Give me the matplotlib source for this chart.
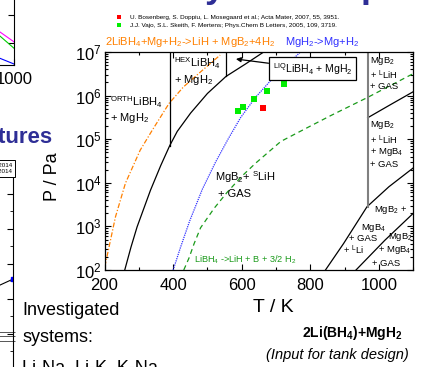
import matplotlib
matplotlib.use('Agg')
import matplotlib.pyplot as plt
from matplotlib.ticker import LogLocator, MultipleLocator, NullFormatter

plt.rcParams['font.family'] = ['Liberation Sans', 'DejaVu Sans']
plt.rcParams['mathtext.fontset'] = 'custom'
plt.rcParams['mathtext.rm'] = 'Liberation Sans'
plt.rcParams['mathtext.it'] = 'Liberation Sans:italic'
plt.rcParams['mathtext.bf'] = 'Liberation Sans:bold'

# phase boundaries (T in K, P in Pa)
t_orange = [201, 232, 261, 304, 339, 388, 430, 480, 537]
p_orange = [120, 1660, 9800, 5.6e4, 1.6e5, 6.6e5, 1.58e6, 3.5e6, 8.5e6]

t_black = [259, 277, 295, 334, 364, 390, 412, 451, 500, 554, 610, 664]
p_black = [100, 331, 977, 6760, 2.5e4, 7.1e4, 1.51e5, 3.98e5, 1.12e6, 2.75e6, 5.25e6, 1e7]

t_blue = [400, 422, 448, 485, 524, 560, 597, 641, 693, 771]
p_blue = [100, 339, 1320, 7080, 3.02e4, 1.0e5, 3.16e5, 9.3e5, 2.63e6, 1e7]

t_green = [431, 446, 461, 480, 520, 557, 600, 640, 714, 800, 860, 967, 1100]
p_green = [100, 186, 400, 930, 2630, 6000, 1.41e4, 2.8e4, 8.9e4, 2.0e5, 3.5e5, 9.1e5, 3.2e6]

# high temperature boundaries
t_hi1 = [967, 1035, 1100]
p_hi1 = [3.1e5, 6.3e5, 1.23e6]
t_hi2 = [844, 897, 965, 1029, 1100]
p_hi2 = [100, 407, 2820, 8130, 2.2e4]
t_hi3 = [933, 1017, 1100]
p_hi3 = [100, 480, 2000]

# vertical transitions: (T, lowest P)
t_orth_hex, p_orth_hex = 390, 7.1e4
t_melt, p_melt = 555, 2.8e6
t_gray, p_gray = 967, 2820

# experimental points
t_bos = [663]
p_bos = [5.1e5]
t_vajo = [588, 604, 637, 674, 723]
p_vajo = [4.5e5, 5.4e5, 8.5e5, 1.29e6, 1.86e6]

lab_bos = 'U. Bosenberg, S. Doppiu, L. Mosegaard et al.; Acta Mater, 2007, 55, 3951.'
lab_vajo = 'J.J. Vajo, S.L. Skeith, F. Mertens; Phys.Chem B Letters, 2005, 109, 3719.'

fig = plt.figure(figsize=(4.34, 3.67), dpi=100)

# ---- main phase diagram
ax = fig.add_axes([0.2408, 0.2643, 0.7115, 0.5940])
ax.plot(t_orange, p_orange, color='#ff8000', lw=0.9, ls=(0, (4, 1.5, 1, 1.5)))
ax.plot(t_black, p_black, color='black', lw=0.9)
ax.plot(t_blue, p_blue, color='#3030ff', lw=0.9, ls=(0, (1, 0.8)))
ax.plot(t_green, p_green, color='#1a9a1a', lw=0.9, ls=(0, (4, 3)))
ax.plot(t_hi1, p_hi1, color='black', lw=0.9)
ax.plot(t_hi2, p_hi2, color='black', lw=0.9)
ax.plot(t_hi3, p_hi3, color='black', lw=0.9)
ax.plot([t_orth_hex, t_orth_hex], [p_orth_hex, 1e7], color='black', lw=0.9)
ax.plot([t_melt, t_melt], [p_melt, 1e7], color='black', lw=0.9)
ax.plot([t_gray, t_gray], [p_gray, 1e7], color='#808080', lw=1.5)

ax.plot(t_bos, p_bos, 's', color='#ff0000', ms=3.8, mew=0, label=lab_bos)
ax.plot(t_vajo, p_vajo, 's', color='#00ee00', ms=3.8, mew=0, label=lab_vajo)

ax.set_yscale('log')
ax.set_xlim(200, 1100)
ax.set_ylim(1e2, 1e7)
ax.xaxis.set_major_locator(MultipleLocator(200))
ax.xaxis.set_minor_locator(MultipleLocator(100))
ax.yaxis.set_major_locator(LogLocator(base=10, numticks=10))
ax.yaxis.set_minor_locator(LogLocator(base=10, subs=range(2, 10), numticks=10))
ax.yaxis.set_minor_formatter(NullFormatter())
ax.tick_params(which='both', direction='in', top=True, right=True, width=0.8)
ax.tick_params(which='major', length=4, labelsize=12, pad=2)
ax.tick_params(axis='x', which='major', pad=6)
ax.tick_params(which='minor', length=2)
for s in ax.spines.values():
    s.set_linewidth(0.9)

fs = 8
ax.text(216, 7.1e5, r'$^{\mathregular{ORTH}}$LiBH$_4$', fontsize=fs, va='center')
ax.text(216, 3.1e5, r'+ MgH$_2$', fontsize=fs, va='center')
ax.text(403, 5.6e6, r'$^{\mathregular{HEX}}$LiBH$_4$', fontsize=fs, va='center')
ax.text(403, 2.3e6, r'+ MgH$_2$', fontsize=fs, va='center')
ax.text(523, 1.35e4, r'MgB$_2$+ $^{\mathregular{S}}$LiH', fontsize=fs, va='center')
ax.text(531, 5.6e3, '+ GAS', fontsize=fs, va='center')

fr = 6.8
ax.text(975, 6.2e6, r'MgB$_2$', fontsize=fr, va='center')
ax.text(975, 2.9e6, r'+ $^{\mathregular{L}}$LiH', fontsize=fr, va='center')
ax.text(975, 1.58e6, '+ GAS', fontsize=fr, va='center')
ax.text(975, 2.1e5, r'MgB$_2$', fontsize=fr, va='center')
ax.text(975, 9.6e4, r'+ $^{\mathregular{L}}$LiH', fontsize=fr, va='center')
ax.text(975, 5.2e4, r'+ MgB$_4$', fontsize=fr, va='center')
ax.text(975, 2.6e4, '+ GAS', fontsize=fr, va='center')
ax.text(985, 2.4e3, r'MgB$_2$ +', fontsize=fr, va='center')
ax.text(949, 940, r'MgB$_4$', fontsize=fr, va='center')
ax.text(912, 525, '+ GAS', fontsize=fr, va='center')
ax.text(895, 275, r'+ $^{\mathregular{L}}$Li', fontsize=fr, va='center')
ax.text(1026, 560, r'MgB$_2$', fontsize=fr, va='center')
ax.text(996, 295, r'+ MgB$_4$', fontsize=fr, va='center')
ax.text(980, 142, '+ GAS', fontsize=fr, va='center')

ax.text(462, 170, r'LiBH$_4$ ->LiH + B + 3/2 H$_2$', fontsize=6.6,
        color='#1a9a1a', va='center')

ax.annotate(r'$^{\mathregular{LIQ}}$LiBH$_4$ + MgH$_2$', xy=(583, 6.9e6), xytext=(806, 4.1e6),
            fontsize=7.6, ha='center', va='center',
            bbox=dict(boxstyle='square,pad=0.35', fc='white', ec='black', lw=0.9),
            arrowprops=dict(arrowstyle='-|>', color='black', lw=0.9, mutation_scale=7,
                            shrinkA=0, shrinkB=0))

fig.text(0.242, 0.8864, r'2LiBH$_4$+Mg+H$_2$->LiH + MgB$_2$+4H$_2$', fontsize=8,
         color='#ff8000', va='center')
fig.text(0.6567, 0.8864, r'MgH$_2$->Mg+H$_2$', fontsize=8, color='#3030ff', va='center')

fig.legend(loc='center left', bbox_to_anchor=(0.262, 0.942), fontsize=4.6,
           frameon=False, handlelength=0.6, handletextpad=1.4, labelspacing=0.4,
           borderpad=0, markerscale=0.8)

fig.text(0.122, 0.5177, 'P / Pa', rotation=90, fontsize=13, ha='center', va='center')
fig.text(0.629, 0.1608, 'T / K', fontsize=14, ha='center', va='center')

fig.text(0.811, 0.0926, r'2Li(BH$_\mathbf{4}$)+MgH$_\mathbf{2}$', fontsize=10,
         fontweight='bold', ha='center', va='center')
fig.text(0.7765, 0.0327, '(Input for tank design)', fontsize=10.5, style='italic',
         ha='center', va='center')

fig.text(0.0507, 0.155, 'Investigated', fontsize=13, va='center')
fig.text(0.0507, 0.0817, 'systems:', fontsize=13, va='center')
fig.text(0.0507, -0.004, 'Li-Na, Li-K, K-Na', fontsize=13, va='center')

fig.text(0.1221, 0.624, 'Mixtures', fontsize=16, fontweight='bold', color='#2e2e96',
         ha='right', va='center')
fig.text(0.472, 1.008, 'y', fontsize=26, fontweight='bold', color='#2e2e96', va='baseline')
fig.text(0.832, 1.008, 'p', fontsize=26, fontweight='bold', color='#2e2e96', va='baseline')

# ---- neighbouring charts cut by the slide crop
axa = fig.add_axes([-0.4, 0.8229, 0.4323, 0.3])
axa.plot([900, 1000], [0.33, 0.21], color='#ff00ff', lw=0.8)
axa.plot([900, 1000], [0.30, 0.152], color='#00cc00', lw=0.8)
axa.plot([900, 1000], [0.078, 0.009], color='#0000ff', lw=0.8)
axa.set_xlim(0, 1000)
axa.set_ylim(0, 1)
axa.set_xticks([1000])
axa.set_yticks([0.2, 0.45, 0.7])
axa.yaxis.set_ticklabels([])
axa.tick_params(direction='in', right=True, labelsize=12, length=4, pad=5)

axb = fig.add_axes([-0.4, -0.1, 0.4307, 0.6613])
axb.plot([900, 1000], [4.64, 5.13], color='black', lw=0.8)
axb.plot([1000], [5.13], 's', color='#0000ff', ms=3.5)
axb.hlines([2.12, 1.87, 1.6], 900, 1008, color='#555555', lw=0.7, clip_on=False)
axb.set_xlim(0, 1000)
axb.set_ylim(-2, 11.87)
axb.yaxis.set_major_locator(MultipleLocator(2))
axb.yaxis.set_minor_locator(MultipleLocator(1))
axb.tick_params(which='both', direction='in', right=True, left=False,
                labelleft=False, labelbottom=False)
axb.tick_params(which='major', length=4)
axb.tick_params(which='minor', length=2)
axb.text(0.995, 0.992, 'Exp. 2014\nCalc. 2014', transform=axb.transAxes, fontsize=4.5,
         ha='right', va='top', linespacing=1.3,
         bbox=dict(boxstyle='square,pad=0.4', fc='white', ec='black', lw=0.7))

fig.savefig('out.png', dpi=100)
